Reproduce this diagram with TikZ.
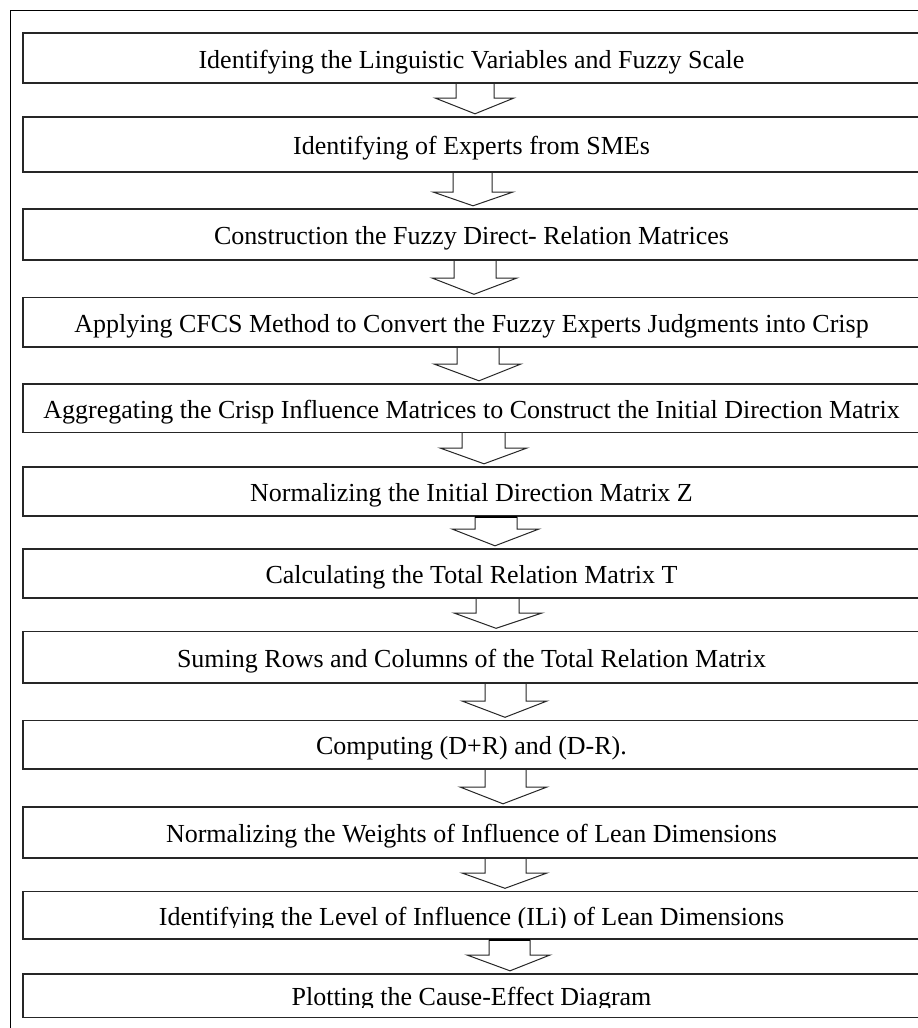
\documentclass[tikz,border=0pt]{standalone}
\usepackage{fontspec}
\setmainfont{Liberation Serif}
\usetikzlibrary{calc}
\tikzset{
  stepbox/.style={draw=black!85, line width=1.4pt, minimum width=897pt, inner sep=0pt,
    text height=22pt, text depth=2pt, font=\fontsize{26}{30}\selectfont},
  blockarr/.style={draw=black!85, line width=1pt, line join=miter},
  outerframe/.style={draw=black, line width=1.9pt},
  shafttop/.style={draw=black, line width=2.4pt}
}
% #1 from node, #2 to node, #3 shaft left, #4 shaft right, #5 head left, #6 head right, #7 tip x, #8 head base y
\newcommand\blkarrow[8]{%
  \draw[blockarr] (#3,0 |- #1.south) -- (#3,#8) -- (#5,#8)
    -- ($(#7,0 |- #2.north)+(0,-2.5)$) -- (#6,#8) -- (#4,#8) -- (#4,0 |- #1.south);
}
\newcommand\blktop[3]{%
  \draw[shafttop] (#2,0 |- #1.south) -- (#3,0 |- #1.south);
}
\begin{document}
\begin{tikzpicture}[x=1pt,y=-1pt]
\useasboundingbox (0,0) rectangle (918,1028);
\clip (0,0) rectangle (918,1028);
\fill[white] (0,0) rectangle (918,1028);
\draw[outerframe] (10.5,1040) -- (10.5,10.5) -- (935,10.5) -- (935,1040);

\node[stepbox, minimum height=50pt]   (b1)  at (471.5,58)     {Identifying the Linguistic Variables and Fuzzy Scale};
\node[stepbox, minimum height=55pt]   (b2)  at (471.5,144.5)  {Identifying of Experts from SMEs};
\node[stepbox, minimum height=51pt]   (b3)  at (471.5,234.5)  {Construction the Fuzzy Direct- Relation Matrices};
\node[stepbox, minimum height=49.5pt] (b4)  at (471.5,322.25) {Applying CFCS Method to Convert the Fuzzy Experts Judgments into Crisp};
\node[stepbox, minimum height=48.5pt] (b5)  at (471.5,408.25) {Aggregating the Crisp Influence Matrices to Construct the Initial Direction Matrix};
\node[stepbox, minimum height=49pt]   (b6)  at (471.5,491.5)  {Normalizing the Initial Direction Matrix Z};
\node[stepbox, minimum height=49pt]   (b7)  at (471.5,573.5)  {Calculating the Total Relation Matrix T};
\node[stepbox, minimum height=51.5pt] (b8)  at (471.5,657.25) {Suming Rows and Columns of the Total Relation Matrix};
\node[stepbox, minimum height=48.5pt] (b9)  at (471.5,744.75) {Computing (D+R) and (D-R).};
\node[stepbox, minimum height=51pt]   (b10) at (471.5,832.5)  {Normalizing the Weights of Influence of Lean Dimensions};
\node[stepbox, minimum height=47.5pt] (b11) at (471.5,915.25) {Identifying the Level of Influence (ILi) of Lean Dimensions};
\node[stepbox, minimum height=43.5pt] (b12) at (471.5,995.75) {Plotting the Cause-Effect Diagram};

% clipped descenders as in the source
\fill[white] (150,928) rectangle (800,937.8);
\fill[white] (150,1007.5) rectangle (800,1016.2);

\blkarrow{b1}{b2}{456}{494}{435}{514}{475}{98}
\blkarrow{b2}{b3}{453}{492}{433}{513}{473}{192}
\blkarrow{b3}{b4}{454}{496}{432}{517}{474}{278}
\blkarrow{b4}{b5}{457}{499}{434}{521}{479}{364}
\blkarrow{b5}{b6}{462}{505}{440}{527}{484}{448}
\blkarrow{b6}{b7}{475}{517}{452}{539}{495}{529}
\blktop{b6}{475}{517}
\blkarrow{b7}{b8}{476}{519}{454}{542}{496}{613}
\blkarrow{b8}{b9}{485}{526}{462}{547}{505}{701}
\blkarrow{b9}{b10}{485}{526}{460}{547}{503}{787}
\blkarrow{b10}{b11}{485}{526}{462}{547}{505}{873}
\blkarrow{b11}{b12}{489}{530}{467}{550}{510}{955}
\blktop{b11}{489}{530}
\end{tikzpicture}
\end{document}
